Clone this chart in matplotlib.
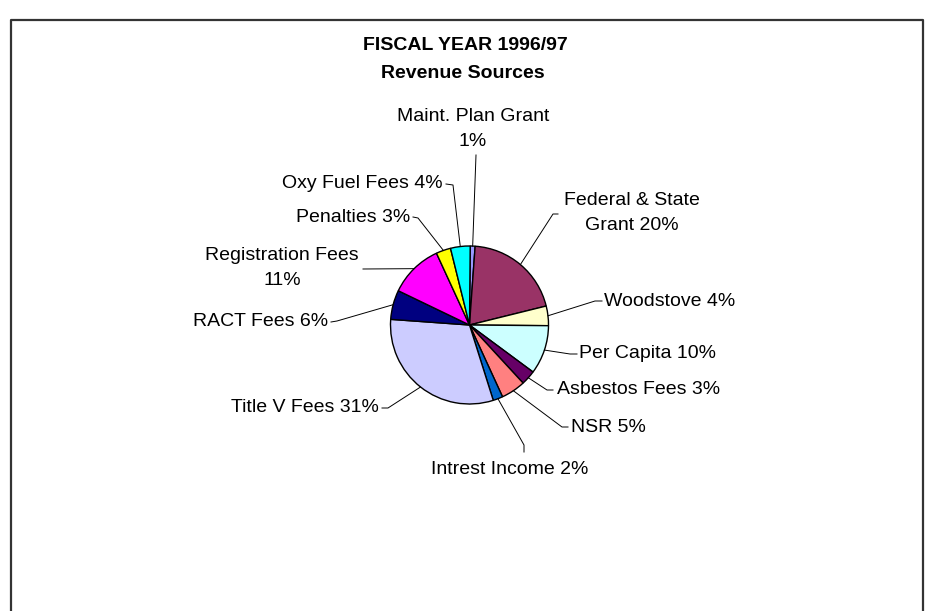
import numpy as np
import matplotlib.pyplot as plt
from matplotlib.lines import Line2D

plt.rcParams["font.family"] = ["Liberation Sans", "DejaVu Sans"]

# revenue shares in percent, clockwise from the top
names = ["Maint. Plan Grant", "Federal & State Grant", "Woodstove", "Per Capita",
         "Asbestos Fees", "NSR", "Intrest Income", "Title V Fees", "RACT Fees",
         "Registration Fees", "Penalties", "Oxy Fuel Fees"]
shares = [1, 20, 4, 10, 3, 5, 2, 31, 6, 11, 3, 4]
colors = ["#9999FF", "#993366", "#FFFFCC", "#CCFFFF", "#660066", "#FF8080",
          "#0066CC", "#CCCCFF", "#000080", "#FF00FF", "#FFFF00", "#00FFFF"]

W, H = 930, 611
cx, cy, r = 469.5, 325, 79


def Y(y):
    # pixel row (from top) -> axes y
    return H - y


# label placement: text anchor, alignment, leader elbow points (pixel coords)
layout = {
    "Maint. Plan Grant":     dict(xy=(473, 129), ha="center", elbow=[(476, 155)]),
    "Federal & State Grant": dict(xy=(632, 213), ha="center", elbow=[(558, 214), (553, 214)]),
    "Woodstove":             dict(xy=(604, 301), ha="left", elbow=[(602, 301), (595, 301)]),
    "Per Capita":            dict(xy=(579, 354), ha="left", elbow=[(577, 354), (570, 354)]),
    "Asbestos Fees":         dict(xy=(557, 389), ha="left", elbow=[(553, 390), (547, 390)]),
    "NSR":                   dict(xy=(571, 427), ha="left", elbow=[(568, 427), (562, 427)]),
    "Intrest Income":        dict(xy=(510, 470), ha="center", elbow=[(524, 452), (524, 445)]),
    "Title V Fees":          dict(xy=(379, 408), ha="right", elbow=[(382, 408), (388, 408)]),
    "RACT Fees":             dict(xy=(328, 321), ha="right", elbow=[(331, 322), (337, 321)]),
    "Registration Fees":     dict(xy=(282, 268), ha="center", elbow=[(363, 269)]),
    "Penalties":             dict(xy=(410, 217), ha="right", elbow=[(413, 217), (418, 218)]),
    "Oxy Fuel Fees":         dict(xy=(443, 184), ha="right", elbow=[(446, 184), (453, 185)]),
}
two_line = {"Maint. Plan Grant": "Maint. Plan Grant\n{}%",
            "Federal & State Grant": "Federal & State\nGrant {}%",
            "Registration Fees": "Registration Fees\n{}%"}

fig = plt.figure(figsize=(W / 100, H / 100), dpi=100)
ax = fig.add_axes([0, 0, 1, 1])
ax.set_xlim(0, W)
ax.set_ylim(0, H)
ax.set_aspect("equal")
ax.axis("off")

wedges, _ = ax.pie(shares, colors=colors, startangle=89.5, counterclock=False,
                   center=(cx, Y(cy)), radius=r, frame=True,
                   wedgeprops=dict(edgecolor="black", linewidth=1.0))
ax.set_xlim(0, W)
ax.set_ylim(0, H)
ax.axis("off")

for name, val, w in zip(names, shares, wedges):
    lay = layout[name]
    mid = np.deg2rad((w.theta1 + w.theta2) / 2)
    px = cx + r * np.cos(mid)
    py = Y(cy) + r * np.sin(mid)
    pts = [(px, py)] + [(x, Y(y)) for x, y in reversed(lay["elbow"])]
    ax.add_line(Line2D([p[0] for p in pts], [p[1] for p in pts],
                       color="black", linewidth=0.7))
    text = two_line.get(name, name + " {}%").format(val)
    ax.text(lay["xy"][0], Y(lay["xy"][1]), text, ha=lay["ha"], va="center",
            fontsize=14, linespacing=1.55, color="black")

ax.text(465, Y(45), "FISCAL YEAR 1996/97", ha="center", va="center",
        fontsize=14, fontweight="bold")
ax.text(463, Y(74), "Revenue Sources", ha="center", va="center",
        fontsize=14, fontweight="bold")

# chart frame (bottom edge runs off the page)
ax.add_line(Line2D([11, 11, 923, 923], [0, Y(20), Y(20), 0],
                   color="#333333", linewidth=1.6))

fig.savefig("out.png", dpi=100)
